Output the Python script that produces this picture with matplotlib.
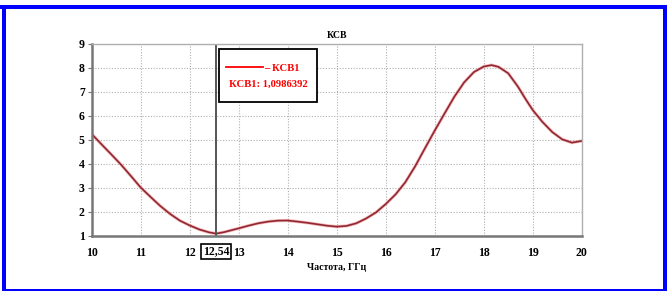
import matplotlib
matplotlib.use("Agg")
import matplotlib.pyplot as plt
from matplotlib.patches import Rectangle

# VSWR vs frequency
freq_ghz = [10.0, 10.2, 10.4, 10.6, 10.8, 11.0, 11.2, 11.4, 11.6, 11.8,
            12.0, 12.2, 12.4, 12.54, 12.7, 12.85, 13.0, 13.2, 13.4, 13.6,
            13.8, 14.0, 14.2, 14.4, 14.6, 14.8, 15.0, 15.2, 15.4, 15.6,
            15.8, 16.0, 16.2, 16.4, 16.6, 16.8, 17.0, 17.2, 17.4, 17.6,
            17.8, 18.0, 18.16, 18.3, 18.5, 18.7, 18.85, 19.0, 19.2, 19.4,
            19.6, 19.8, 20.0]
vswr = [5.25, 4.82, 4.40, 3.97, 3.50, 3.02, 2.63, 2.25, 1.92, 1.64,
        1.44, 1.27, 1.15, 1.10, 1.16, 1.24, 1.32, 1.43, 1.53, 1.60,
        1.64, 1.645, 1.60, 1.55, 1.49, 1.43, 1.39, 1.42, 1.53, 1.73,
        1.98, 2.33, 2.73, 3.24, 3.90, 4.65, 5.39, 6.10, 6.80, 7.40,
        7.83, 8.06, 8.12, 8.05, 7.78, 7.22, 6.72, 6.25, 5.75, 5.33,
        5.03, 4.89, 4.96]

x_ticks = [10, 11, 12, 13, 14, 15, 16, 17, 18, 19, 20]
y_ticks = [1, 2, 3, 4, 5, 6, 7, 8, 9]
marker_x = 12.54
marker_label = "12,54"
marker_value = "КСВ1: 1,0986392"
series_name = "КСВ1"
title = "КСВ"
x_label = "Частота, ГГц"

W, H = 669, 291
plt.rcParams['font.family'] = ['Liberation Serif', 'DejaVu Serif']
plt.rcParams['font.weight'] = 'bold'

fig = plt.figure(figsize=(W / 100, H / 100), dpi=100)
fig.patch.set_facecolor('white')

# blue frame around the chart
def px_rect(x0, y0, x1, y1):
    return Rectangle((x0 / W, 1 - y1 / H), (x1 - x0) / W, (y1 - y0) / H,
                     transform=fig.transFigure, facecolor='#0000ff',
                     edgecolor='none', zorder=0)

fig.patches.append(px_rect(0, 4.7, 667, 8.7))
fig.patches.append(px_rect(2, 4.7, 6, 291))
fig.patches.append(px_rect(663, 4.7, 667, 291))
fig.patches.append(px_rect(2, 289, 667, 291))

left, right, top, bottom = 91.7, 581.7, 44, 236
ax = fig.add_axes([left / W, 1 - bottom / H, (right - left) / W, (bottom - top) / H])

ax.plot(freq_ghz, vswr, color='#f08080', lw=2.3, alpha=0.55, solid_capstyle='round')
ax.plot(freq_ghz, vswr, color='#902833', lw=1.2, solid_capstyle='round')
ax.axvline(marker_x, color='#555555', lw=1.4)

ax.set_xlim(10, 20)
ax.set_ylim(1, 9)
ax.set_xticks(x_ticks)
ax.set_yticks(y_ticks)
ax.grid(True, color='#b0b0b0', lw=0.8, linestyle=(0, (1, 1.5)))
ax.set_axisbelow(True)

for s in ['left', 'bottom']:
    ax.spines[s].set_color('#777777')
    ax.spines[s].set_linewidth(1.8)
for s in ['top', 'right']:
    ax.spines[s].set_color('#b0b0b0')
    ax.spines[s].set_linewidth(1.0)

ax.tick_params(axis='x', length=0, pad=8, labelsize=8.5)
ax.tick_params(axis='y', length=3, width=0.8, color='#777777', pad=2, labelsize=8.5)

ax.set_title(title, fontsize=7, fontweight='bold', pad=4)
ax.set_xlabel(x_label, fontsize=7, fontweight='bold', labelpad=3)

# boxed marker value on the x axis
ax.text(marker_x, -0.08, marker_label, transform=ax.get_xaxis_transform(),
        ha='center', va='center', fontsize=8.5, fontweight='bold',
        bbox=dict(boxstyle='square,pad=0.15', facecolor='white', edgecolor='black', lw=1.2))

# marker info box
box = Rectangle((219 / W, 1 - 102.3 / H), (316.7 - 219) / W, (102.3 - 49) / H,
                transform=fig.transFigure, facecolor='white', edgecolor='black',
                lw=1.3, zorder=5)
fig.patches.append(box)
fig.lines.append(plt.Line2D([226 / W, 263 / W], [1 - 66.7 / H, 1 - 66.7 / H],
                            transform=fig.transFigure, color='#ff0000', lw=1.3, zorder=6))
fig.text(264 / W, 1 - 68.5 / H, "– " + series_name, color='#ff0000', fontsize=7.7,
         fontweight='bold', ha='left', va='center', zorder=6)
fig.text(268 / W, 1 - 84 / H, marker_value, color='#ff0000', fontsize=7.7,
         fontweight='bold', ha='center', va='center', zorder=6)

fig.savefig("out.png", dpi=100, facecolor='white')
